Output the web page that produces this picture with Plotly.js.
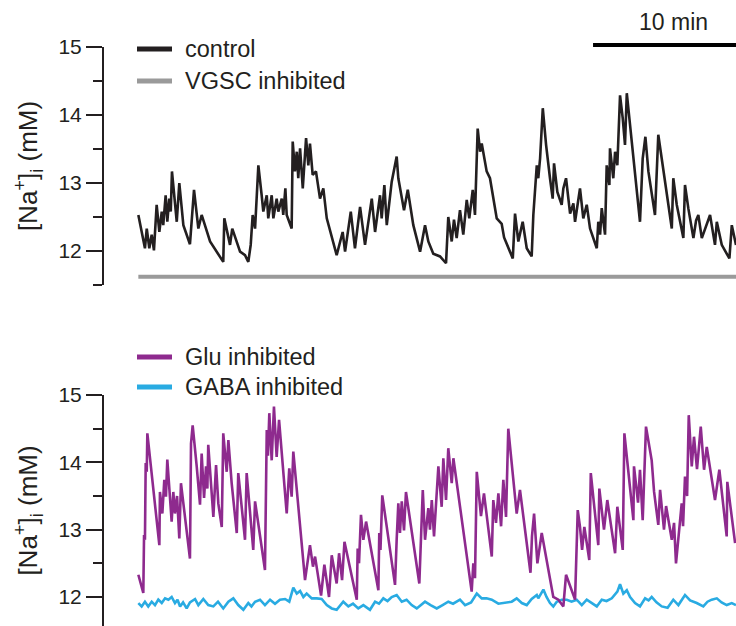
<!DOCTYPE html>
<html>
<head>
<meta charset="utf-8">
<script src="https://cdn.plot.ly/plotly-3.0.1.min.js"></script>
<style>html,body{margin:0;padding:0;background:#fff;}#chart{width:736px;height:626px;}</style>
</head>
<body>
<div id="chart"></div>
<script>
// time in minutes, [Na+]i in mM
const ctrlT = [0.09,0.53,0.65,0.82,0.98,1.13,1.31,1.49,1.65,1.75,1.91,2.02,2.15,2.25,2.33,2.65,2.82,3.09,3.53,3.8,4.09,4.31,4.87,5.75,5.82,6.2,6.35,6.87,7.2,7.42,7.58,7.71,7.87,8.09,8.31,8.42,8.65,8.75,8.98,9.09,9.31,9.42,9.65,9.75,9.89,9.98,10.31,10.38,10.53,10.65,10.75,10.87,11.05,11.27,11.42,11.53,11.71,11.93,12.2,12.42,12.65,13.09,13.31,13.71,13.87,14.25,14.53,14.87,15.2,15.65,15.87,16.2,16.31,16.49,16.65,16.98,17.31,17.42,17.65,17.8,18.05,18.42,18.87,19.2,19.42,19.75,20.2,20.6,20.75,20.98,21.13,21.31,21.53,21.75,21.98,22.15,22.38,22.53,22.71,22.87,22.98,23.31,23.53,23.98,24.31,24.47,25.05,25.2,25.42,25.71,25.98,26.31,26.42,26.53,26.65,26.75,26.87,27.05,27.27,27.53,27.71,27.8,28.02,28.31,28.42,28.6,28.75,28.87,29.09,29.2,29.53,29.75,29.98,30.2,30.65,30.75,30.87,30.98,31.2,31.31,31.49,31.53,31.75,31.87,32.02,32.2,32.38,32.53,32.65,32.87,33.53,33.71,33.89,34.09,34.53,34.75,35.09,35.65,35.75,35.98,36.42,36.53,36.75,37.09,37.27,37.42,37.65,38.2,38.53,38.65,38.98,39.49,39.65,39.93];
const ctrlV = [12.53,12.04,12.33,12.04,12.24,12.01,12.68,12.28,12.58,12.38,12.82,12.43,12.77,12.58,13.17,12.43,13.0,12.38,12.1,12.9,12.33,12.53,12.14,11.84,12.48,12.09,12.33,11.99,11.94,11.84,12.09,12.53,12.33,13.26,12.82,12.58,12.82,12.48,12.82,12.48,12.77,12.58,12.77,12.53,12.92,12.53,12.33,13.61,13.17,13.46,13.07,13.51,12.92,13.66,13.26,13.58,13.12,13.17,12.77,12.92,12.48,12.09,11.94,12.28,11.99,12.58,12.04,12.65,12.09,12.77,12.28,12.82,12.48,12.97,12.38,13.02,13.39,13.07,12.77,12.6,12.9,12.38,11.99,12.38,12.14,11.96,11.92,11.82,12.5,12.14,12.46,12.19,12.6,12.24,12.75,12.48,12.9,12.53,13.8,13.46,13.58,13.17,13.07,12.48,12.4,12.2,11.89,12.55,12.14,12.43,12.04,11.92,12.53,12.92,13.26,13.07,13.36,14.1,13.56,13.07,12.77,13.29,12.87,12.68,12.92,13.07,12.72,12.55,12.7,12.43,12.92,12.48,12.68,12.33,12.04,12.43,12.24,12.63,12.24,13.26,12.97,13.51,13.07,13.46,13.26,14.29,13.95,13.56,14.32,13.85,12.43,13.36,13.68,13.17,12.53,13.71,13.17,12.33,13.07,12.68,12.19,12.97,12.63,12.19,12.45,12.53,12.19,12.53,12.09,12.43,12.09,11.89,12.38,12.09];

const vgscT = [0.09,5,10,15,20,25,30,35,39.93];
const vgscV = [11.62,11.62,11.62,11.62,11.62,11.62,11.62,11.62,11.62];

const gluT = [0.09,0.42,0.47,0.53,0.58,0.65,0.69,1.0,1.49,1.53,1.69,1.82,1.93,2.02,2.31,2.42,2.53,2.67,2.82,2.93,3.53,3.6,3.71,3.98,4.2,4.31,4.47,4.6,4.69,4.75,5.09,5.27,5.42,5.65,5.75,5.98,6.09,6.31,6.65,6.75,7.0,7.2,7.31,7.75,7.87,8.53,8.65,8.73,8.82,8.98,9.13,9.31,9.47,9.98,10.15,10.31,10.42,11.2,11.53,11.73,11.87,12.27,12.49,12.8,12.98,13.31,13.47,13.67,13.83,14.65,14.71,14.8,14.93,15.09,15.27,16.09,16.15,16.23,16.35,17.2,17.31,17.42,17.53,17.65,17.8,17.93,18.82,19.05,19.2,19.42,19.53,19.65,19.8,20.09,20.31,20.42,20.6,20.75,20.98,21.09,22.31,22.42,22.53,22.65,22.93,23.13,23.65,23.75,23.93,24.09,24.27,24.42,24.6,24.75,25.31,25.53,26.23,26.33,26.47,26.69,26.98,27.75,28.09,28.42,28.6,29.2,29.38,29.53,29.67,29.82,30.15,30.25,30.75,30.82,31.13,31.35,31.87,32.02,32.38,32.49,33.09,33.13,33.4,33.53,33.71,33.93,34.31,34.47,34.75,34.87,35.13,35.27,35.65,35.8,35.93,36.31,36.4,36.53,36.67,36.78,36.98,37.13,37.33,37.58,37.8,37.98,38.53,38.82,39.31,39.35,39.87];
const gluV = [12.33,12.06,12.92,12.85,13.99,13.86,14.43,13.8,12.77,13.56,13.24,13.74,13.49,14.04,13.12,13.56,13.24,13.5,12.87,13.69,12.57,14.28,14.55,13.94,13.37,14.13,13.47,13.94,13.61,14.26,13.19,13.96,13.39,13.04,14.43,13.86,14.33,13.69,12.95,13.84,13.3,12.85,13.84,12.7,13.42,12.4,14.48,14.1,14.73,14.03,14.83,14.08,14.63,13.24,13.91,13.49,14.16,12.25,12.77,12.45,12.6,12.02,12.48,12.0,12.62,12.2,12.65,12.25,12.82,11.96,12.72,12.5,13.22,12.85,13.12,12.1,12.95,12.7,13.51,12.18,12.85,13.39,12.95,13.42,12.99,13.56,12.2,13.59,12.85,13.32,13.0,13.44,12.9,13.94,13.34,14.06,13.44,14.21,13.69,14.06,12.08,12.5,12.28,13.86,13.2,13.54,12.6,13.44,13.1,13.54,13.05,13.74,13.19,14.5,13.24,13.59,12.36,12.9,13.24,12.5,12.95,12.0,11.96,11.86,12.33,11.96,13.29,13.04,12.7,13.04,12.55,13.84,12.77,13.61,13.0,13.44,12.65,13.34,12.7,14.43,13.14,13.94,13.4,13.89,13.14,14.53,14.03,13.56,13.07,13.59,13.0,13.35,12.85,13.1,12.5,13.39,13.05,13.79,13.5,14.7,13.94,14.38,13.9,14.53,13.89,14.23,13.44,13.89,12.9,13.71,12.8];

const gabaT = [0.09,0.31,0.53,0.75,0.98,1.2,1.42,1.65,1.87,2.09,2.31,2.53,2.7,2.87,3.07,3.31,3.53,3.87,4.09,4.42,4.75,5.09,5.4,5.75,6.09,6.42,6.75,7.09,7.42,7.63,7.87,8.2,8.53,8.87,9.2,9.53,9.87,10.15,10.42,10.65,10.87,11.09,11.31,11.65,11.98,12.31,12.65,12.98,13.31,13.75,14.09,14.4,14.75,15.09,15.53,15.87,16.13,16.42,16.7,16.98,17.31,17.65,17.97,18.31,18.65,19.2,19.57,19.98,20.37,20.75,21.07,21.53,21.87,22.27,22.65,22.98,23.3,23.65,24.09,24.53,24.98,25.31,25.65,25.98,26.31,26.65,26.75,27.09,27.3,27.53,27.75,27.98,28.31,28.65,28.97,29.31,29.65,29.98,30.3,30.65,30.98,31.3,31.65,32.02,32.2,32.42,32.65,32.87,33.2,33.53,33.87,34.1,34.31,34.63,34.98,35.37,35.75,36.09,36.53,36.87,37.31,37.75,38.03,38.31,38.65,38.97,39.31,39.65,39.93];
const gabaV = [11.91,11.86,11.93,11.86,11.93,11.88,11.96,11.91,11.98,11.96,12.0,11.91,11.96,11.86,11.92,11.83,11.92,11.97,11.88,11.97,11.88,11.86,11.93,11.83,11.93,11.98,11.88,11.81,11.91,11.86,11.93,11.96,11.88,11.96,11.9,11.96,11.97,11.93,12.14,12.05,12.09,12.0,12.05,11.98,11.98,11.97,11.88,11.83,11.81,11.93,11.86,11.9,11.83,11.88,11.81,11.93,11.9,11.98,11.94,12.0,12.03,11.93,11.96,11.88,11.83,11.93,11.88,11.83,11.88,11.93,11.9,11.96,11.88,11.92,12.05,11.98,11.98,11.96,11.9,11.92,11.93,11.98,11.91,11.88,11.97,12.03,11.98,12.11,12.0,11.91,11.86,11.93,11.96,11.96,11.93,11.96,11.88,11.96,11.91,11.86,11.96,11.94,11.98,12.08,12.19,12.05,12.1,12.0,11.91,11.86,11.98,11.95,12.0,11.92,11.86,11.84,11.96,11.88,12.03,11.95,11.91,11.86,11.93,11.96,11.98,11.92,11.88,11.91,11.88];

const seriesNames = ['control','VGSC inhibited','Glu inhibited','GABA inhibited'];
const seriesColors = ['#231f20','#9a9a9a','#8e2a8e','#29abe2'];
const yTickVals = [12,13,14,15];
const scaleBarLabel = '10 min';
const scaleBarMinutes = 10;

const FONT = 'Arial, "Liberation Sans", sans-serif';
const xStart = -2.2, xEnd = 39.93;

const traces = [
  {x: ctrlT, y: ctrlV, yaxis:'y', mode:'lines', line:{color:seriesColors[0], width:2.6}, name:seriesNames[0]},
  {x: vgscT, y: vgscV, yaxis:'y', mode:'lines', line:{color:seriesColors[1], width:4}, name:seriesNames[1]},
  {x: gabaT, y: gabaV, yaxis:'y2', mode:'lines', line:{color:seriesColors[3], width:2.6}, name:seriesNames[3]},
  {x: gluT, y: gluV, yaxis:'y2', mode:'lines', line:{color:seriesColors[2], width:2.6}, name:seriesNames[2]}
];

function yax(domain, range){
  return {
    domain: domain, range: range, showgrid:false, zeroline:false,
    showline:true, linecolor:'#231f20', linewidth:2,
    ticks:'outside', ticklen:16, tickwidth:2, tickcolor:'#231f20',
    tickvals: yTickVals, ticktext: yTickVals.map(String),
    tickfont:{family:FONT, size:21, color:'#231f20'},
    minor:{dtick:0.5, tick0:0, ticks:'outside', ticklen:9, tickwidth:2, tickcolor:'#231f20', showgrid:false},
    title:{text:'[Na<sup>+</sup>]<sub>i</sub> (mM)', font:{family:FONT, size:26, color:'#231f20'}, standoff:13},
    fixedrange:true
  };
}

const H = 626;
const py = p => (H - p) / H;
const W = 632;
const pxx = p => (p - 104) / W;

const legendRows = [
  {name: seriesNames[0], color: seriesColors[0], y: 49},
  {name: seriesNames[1], color: seriesColors[1], y: 81},
  {name: seriesNames[2], color: seriesColors[2], y: 357},
  {name: seriesNames[3], color: seriesColors[3], y: 387}
];

const shapes = legendRows.map(r => ({
  type:'line', xref:'paper', yref:'paper', x0:pxx(137), x1:pxx(172), y0:py(r.y), y1:py(r.y),
  line:{color:r.color, width:5}
}));
shapes.push({type:'line', xref:'x', yref:'paper', x0: xEnd - scaleBarMinutes + 0.47, x1: xEnd, y0: py(45), y1: py(45),
  line:{color:'#000', width:4}});

const annotations = legendRows.map(r => ({
  xref:'paper', yref:'paper', x:pxx(183), y:py(r.y), xanchor:'left', yanchor:'middle',
  text:r.name, showarrow:false, font:{family:FONT, size:23.5, color:'#231f20'}
}));
annotations.push({xref:'x', yref:'paper', x: xEnd - scaleBarMinutes/2 + 0.85, y: py(22), xanchor:'center', yanchor:'middle',
  text: scaleBarLabel, showarrow:false, font:{family:FONT, size:23, color:'#231f20'}});

const layout = {
  width:736, height:626,
  margin:{l:104, r:0, t:0, b:0},
  paper_bgcolor:'#fff', plot_bgcolor:'#fff',
  showlegend:false,
  xaxis:{range:[xStart, xEnd], visible:false, fixedrange:true},
  yaxis: yax([py(285), py(47)], [11.5, 15]),
  yaxis2: yax([0, py(395)], [15 - (626-395)/67.33, 15]),
  shapes: shapes,
  annotations: annotations,
  font:{family:FONT}
};

Plotly.newPlot('chart', traces, layout, {displayModeBar:false, staticPlot:true});
</script>
</body>
</html>
